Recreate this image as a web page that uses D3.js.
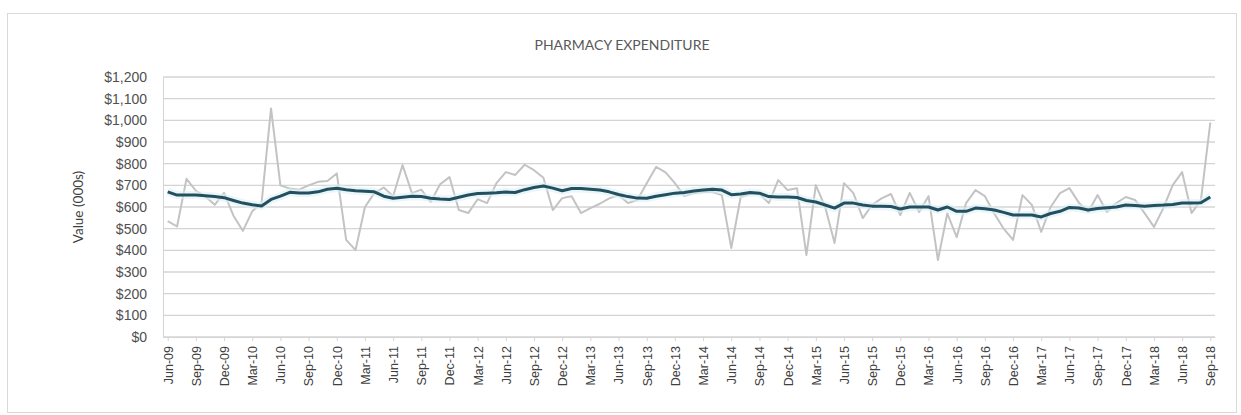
<!DOCTYPE html>
<html>
<head>
<meta charset="utf-8">
<script src="https://cdn.jsdelivr.net/npm/d3@7"></script>
<style>
  body { margin: 0; background: #fff; }
  svg { font-family: Lato, "Liberation Sans", sans-serif; }
</style>
</head>
<body>
<div id="chart"></div>
<script>
// months Jun-09 .. Sep-18
var months = d3.timeMonth.range(new Date(2009, 5, 1), new Date(2018, 9, 1))
    .map(d3.timeFormat("%b-%y"));

// monthly expenditure ($000s)
var expenditure = [
    535, 510, 730, 675, 650, 610, 665, 560, 490, 580, 620, 1055,
    700, 685, 680, 700, 716, 720, 755, 448, 401, 600, 664, 690,
    650, 794, 664, 680, 623, 705, 738, 586, 572, 636, 618, 710,
    761, 748, 795, 770, 735, 586, 641, 650, 572, 595, 615, 640,
    655, 618, 632, 710, 785, 760, 710, 650, 664, 669, 669, 655,
    411, 646, 660, 660, 618, 724, 678, 687, 378, 701, 600, 434,
    710, 664, 549, 610, 640, 660, 563, 665, 577, 650, 355, 570,
    461, 618, 678, 650, 570, 500, 448, 655, 610, 485, 600, 664,
    687, 620, 577, 655, 577, 618, 646, 632, 572, 508, 595, 701,
    761, 572, 632, 990
];

// trend line
var trend = [
    670, 655, 655, 655, 652, 648, 643, 630, 618, 610, 605, 635,
    650, 668, 665, 665, 670, 682, 687, 680, 675, 673, 670, 650,
    640, 645, 650, 648, 640, 637, 635, 645, 655, 662, 664, 666,
    669, 667, 680, 690, 697, 687, 675, 685, 685, 682, 678, 670,
    658, 648, 641, 640, 650, 657, 664, 667, 674, 678, 682, 678,
    657, 660, 667, 664, 648, 646, 646, 644, 630, 623, 609, 595,
    618, 618, 609, 604, 604, 602, 591, 600, 600, 600, 586, 600,
    580, 580, 595, 592, 586, 575, 563, 563, 563, 554, 570, 580,
    598, 595, 586, 593, 597, 600, 609, 607, 604, 607, 609, 612,
    618, 618, 620, 646
];

var tickLabels = [
    "Jun-09", "Sep-09", "Dec-09", "Mar-10", "Jun-10", "Sep-10", "Dec-10",
    "Mar-11", "Jun-11", "Sep-11", "Dec-11", "Mar-12", "Jun-12", "Sep-12",
    "Dec-12", "Mar-13", "Jun-13", "Sep-13", "Dec-13", "Mar-14", "Jun-14",
    "Sep-14", "Dec-14", "Mar-15", "Jun-15", "Sep-15", "Dec-15", "Mar-16",
    "Jun-16", "Sep-16", "Dec-16", "Mar-17", "Jun-17", "Sep-17", "Dec-17",
    "Mar-18", "Jun-18", "Sep-18"
];

var yTicks = [0, 100, 200, 300, 400, 500, 600, 700, 800, 900, 1000, 1100, 1200];

var width = 1241;
var height = 415;
var marginTop = 77;
var marginLeft = 163;
var marginBottom = 78;
var marginRight = 26;

var chartWidth = width - marginLeft - marginRight;
var chartHeight = height - marginTop - marginBottom;

var svg = d3.select("#chart").append("svg")
    .attr("width", width)
    .attr("height", height);

// outer frame
svg.append("rect")
    .attr("x", 7.5)
    .attr("y", 13.5)
    .attr("width", 1229)
    .attr("height", 399)
    .attr("fill", "#fff")
    .attr("stroke", "#d9d9d9");

svg.append("text")
    .attr("x", 622)
    .attr("y", 50)
    .attr("text-anchor", "middle")
    .style("font-size", "14px")
    .style("fill", "#595959")
    .text("PHARMACY EXPENDITURE");

var chart = svg.append("g")
    .attr("transform", "translate(" + marginLeft + "," + marginTop + ")");

var xScale = d3.scalePoint()
    .domain(months)
    .range([0, chartWidth])
    .padding(0.5);

var yScale = d3.scaleLinear()
    .domain([0, 1200])
    .range([chartHeight, 0]);

// gridlines
chart.append("g")
    .selectAll("line")
    .data(yTicks)
    .enter()
    .append("line")
        .attr("x1", 0)
        .attr("x2", chartWidth)
        .attr("y1", function(d) { return yScale(d); })
        .attr("y2", function(d) { return yScale(d); })
        .attr("stroke", "#d4d4d4")
        .attr("stroke-width", 1.3);

// y axis
var yAxis = d3.axisLeft(yScale)
    .tickValues(yTicks)
    .tickSize(0)
    .tickPadding(16)
    .tickFormat(function(d) { return "$" + d3.format(",")(d); });

chart.append("g")
    .classed("yAxis", true)
    .call(yAxis)
    .call(function(g) {
        g.select(".domain").attr("stroke", "#d4d4d4");
        g.selectAll("text").style("font-size", "14px").style("fill", "#505050");
    });

// x axis
var xAxis = d3.axisBottom(xScale)
    .tickValues(tickLabels)
    .tickSize(4)
    .tickSizeOuter(0);

chart.append("g")
    .classed("xAxis", true)
    .attr("transform", "translate(0," + chartHeight + ")")
    .call(xAxis)
    .call(function(g) {
        g.select(".domain").attr("stroke", "#d4d4d4");
        g.selectAll(".tick line").attr("stroke", "#d4d4d4");
        g.selectAll("text")
            .attr("transform", "rotate(-90)")
            .attr("x", -9)
            .attr("y", 0)
            .attr("dy", "0.35em")
            .style("text-anchor", "end")
            .style("font-size", "12.5px")
            .style("fill", "#404040");
    });

svg.append("text")
    .attr("transform", "translate(83," + (marginTop + chartHeight / 2) + ") rotate(-90)")
    .attr("text-anchor", "middle")
    .style("font-size", "13.5px")
    .style("fill", "#404040")
    .text("Value (000s)");

var line = d3.line()
    .x(function(d, i) { return xScale(months[i]); })
    .y(function(d) { return yScale(d); });

chart.append("path")
    .datum(expenditure)
    .attr("d", line)
    .attr("fill", "none")
    .attr("stroke", "#c3c3c3")
    .attr("stroke-width", 2)
    .attr("stroke-linejoin", "round");

// soft glow under trend
chart.append("path")
    .datum(trend)
    .attr("d", line)
    .attr("fill", "none")
    .attr("stroke", "#dcf0f7")
    .attr("stroke-width", 8)
    .attr("stroke-opacity", 0.6)
    .attr("stroke-linejoin", "round");

chart.append("path")
    .datum(trend)
    .attr("d", line)
    .attr("fill", "none")
    .attr("stroke", "#22505f")
    .attr("stroke-width", 3)
    .attr("stroke-linejoin", "round");
</script>
</body>
</html>
